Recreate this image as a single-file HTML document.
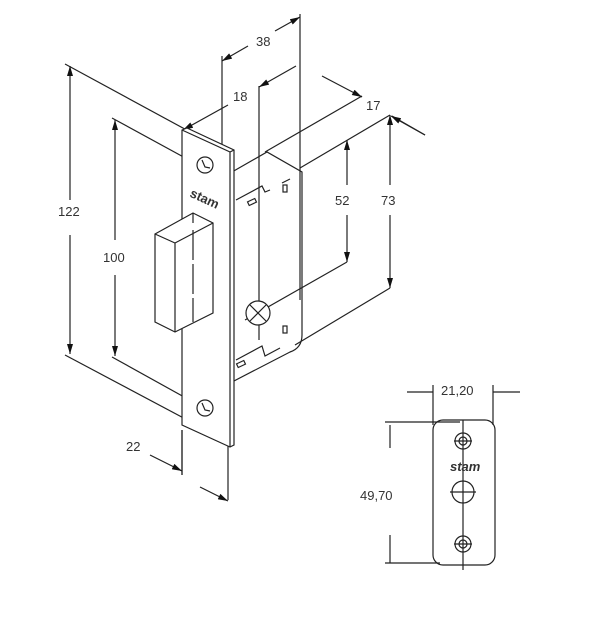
<!DOCTYPE html>
<html><head><style>html,body{margin:0;padding:0;background:#fff}svg{display:block}text{font-family:"Liberation Sans",sans-serif;font-size:13px;fill:#333}</style></head><body>
<svg width="600" height="624" viewBox="0 0 600 624" xmlns="http://www.w3.org/2000/svg">
<defs><marker id="a" viewBox="0 0 10 6" refX="10" refY="3" markerWidth="12" markerHeight="6" markerUnits="userSpaceOnUse" orient="auto"><path d="M0,0L10,3L0,6z" fill="#111"/></marker></defs>
<g stroke="#222" stroke-width="1.2" fill="none">
<!-- case -->
<path d="M232,172 L267,152 L302,172 L302,335 Q302,348 290,352 L232,382" fill="#fff"/>
<line x1="232" y1="172" x2="232" y2="382"/>
<!-- extension lines -->
<line x1="65" y1="64" x2="205" y2="140"/>
<line x1="65" y1="355" x2="225" y2="440"/>
<line x1="112" y1="118" x2="222" y2="178"/>
<line x1="112" y1="357" x2="222" y2="418"/>
<line x1="222" y1="56" x2="222" y2="150"/>
<line x1="300" y1="14" x2="300" y2="300"/>
<line x1="259" y1="86" x2="259" y2="340"/>
<line x1="182" y1="430" x2="182" y2="475"/>
<line x1="228" y1="445" x2="228" y2="500"/>
<line x1="362" y1="96" x2="265" y2="152"/>
<line x1="390" y1="115" x2="300" y2="168"/>
<line x1="347" y1="262" x2="245" y2="320"/>
<line x1="390" y1="288" x2="295" y2="345"/>
<line x1="425" y1="135" x2="392" y2="116"/>
<!-- dim lines -->
<line x1="70" y1="200" x2="70" y2="66" marker-end="url(#a)"/>
<line x1="70" y1="235" x2="70" y2="354" marker-end="url(#a)"/>
<line x1="115" y1="240" x2="115" y2="120" marker-end="url(#a)"/>
<line x1="115" y1="275" x2="115" y2="356" marker-end="url(#a)"/>
<line x1="347" y1="185" x2="347" y2="140" marker-end="url(#a)"/>
<line x1="347" y1="215" x2="347" y2="262" marker-end="url(#a)"/>
<line x1="390" y1="185" x2="390" y2="115" marker-end="url(#a)"/>
<line x1="390" y1="215" x2="390" y2="288" marker-end="url(#a)"/>
<line x1="248" y1="46" x2="222" y2="61" marker-end="url(#a)"/>
<line x1="275" y1="31" x2="300" y2="17" marker-end="url(#a)"/>
<line x1="296" y1="66" x2="259" y2="87" marker-end="url(#a)"/>
<line x1="228" y1="105" x2="183" y2="130" marker-end="url(#a)"/>
<line x1="322" y1="76" x2="362" y2="97" marker-end="url(#a)"/>
<line x1="150" y1="455" x2="182" y2="471" marker-end="url(#a)"/>
<line x1="200" y1="487" x2="228" y2="501" marker-end="url(#a)"/>
<line x1="425" y1="135" x2="391" y2="116" marker-end="url(#a)"/>
<circle cx="258" cy="313" r="12" fill="#fff"/>
<path d="M250,305 L266,321 M250,321 L266,305"/>
<path d="M236,200 L262,186 L265,192 L270,190 M282,183 L290,179" />
<rect x="248" y="200" width="8" height="4" transform="rotate(-25 252 202)"/>
<rect x="283" y="185" width="4" height="7"/>
<rect x="283" y="326" width="4" height="7"/>
<path d="M236,360 L262,346 L265,356 L280,348"/>
<rect x="237" y="362" width="8" height="4" transform="rotate(-25 241 364)"/>
<!-- plate -->
<path d="M182,130 L187,128 L234,150 L234,445 L230,447 L182,425 Z" fill="#fff"/>
<path d="M182,130 L230,152 L230,447 M230,152 L234,150"/>
<line x1="182" y1="430" x2="182" y2="475"/>
<circle cx="205" cy="165" r="8"/>
<circle cx="205" cy="408" r="8"/>
<path d="M202,160 L205,167 L210,168 M202,403 L205,410 L210,411"/>
<!-- bolt -->
<path d="M155,234 L193,213 L213,223 L213,313 L175,332 L155,322 Z" fill="#fff"/>
<path d="M155,234 L175,243 L213,223 M175,243 L175,332 M193,213 L193,223"/>
<line x1="193" y1="230" x2="193" y2="322" stroke-dasharray="30 4 30 4"/>
<!-- small part -->
<rect x="433" y="420" width="62" height="145" rx="10"/>
<line x1="463" y1="420" x2="463" y2="570"/>
<circle cx="463" cy="441" r="8"/><circle cx="463" cy="441" r="4"/>
<circle cx="463" cy="544" r="8"/><circle cx="463" cy="544" r="4"/>
<circle cx="463" cy="492" r="11"/>
<line x1="450" y1="492" x2="476" y2="492"/>
<line x1="454" y1="441" x2="472" y2="441"/><line x1="454" y1="544" x2="472" y2="544"/>
<line x1="407" y1="392" x2="433" y2="392"/><line x1="493" y1="392" x2="520" y2="392"/>
<line x1="433" y1="385" x2="433" y2="425"/><line x1="493" y1="385" x2="493" y2="425"/>
<line x1="385" y1="422" x2="460" y2="422"/><line x1="385" y1="563" x2="440" y2="563"/>
<line x1="390" y1="425" x2="390" y2="448"/><line x1="390" y1="535" x2="390" y2="563"/>
</g>
<text x="190" y="200" font-size="9" font-weight="bold" transform="rotate(25 198 196)">stam</text>
<text x="450" y="471" font-size="9" font-weight="bold" style="font-style:italic">stam</text>
<text x="256" y="46">38</text>
<text x="233" y="101">18</text>
<text x="366" y="110">17</text>
<text x="335" y="205">52</text>
<text x="381" y="205">73</text>
<text x="58" y="216">122</text>
<text x="103" y="262">100</text>
<text x="126" y="451">22</text>
<text x="441" y="395">21,20</text>
<text x="360" y="500">49,70</text>
</svg>
</body></html>
